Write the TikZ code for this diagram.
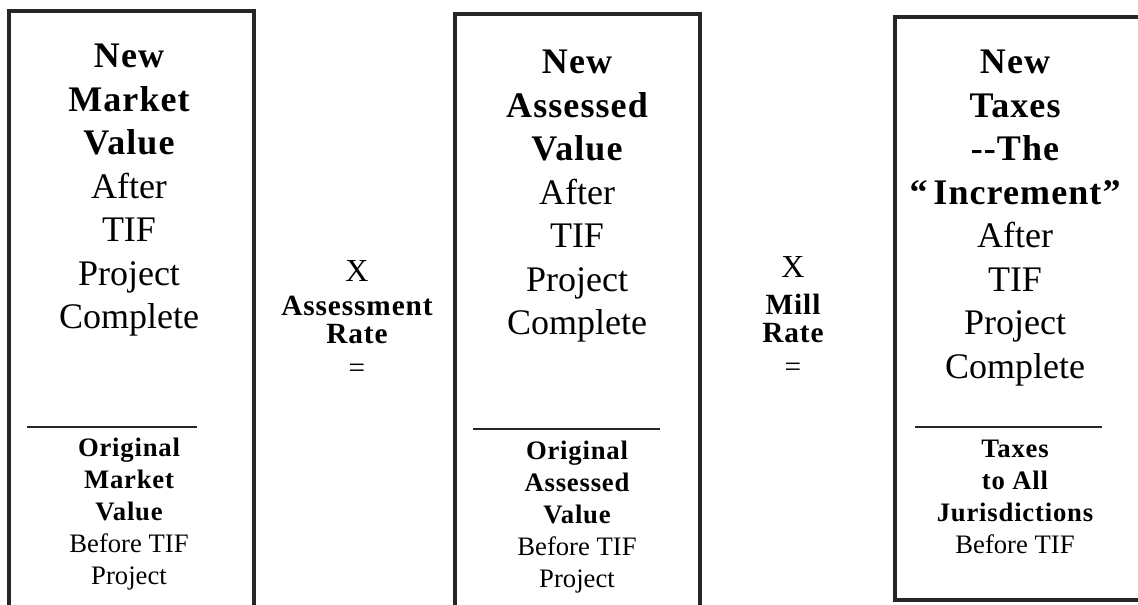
\documentclass[tikz,border=0pt]{standalone}
\usepackage{fontspec}
\setmainfont{Liberation Serif}
\newfontfamily\trackedfont[LetterSpace=3]{Liberation Serif}
\newcommand{\heavy}[1]{{\trackedfont\bfseries #1}}

\tikzset{
  valbox/.style={draw=black!85, line width=3pt},
  toptext/.style={anchor=north, inner sep=0pt, align=center,
    font=\fontsize{27}{32.6}\selectfont},
  bottext/.style={anchor=north, inner sep=0pt, align=center,
    font=\fontsize{20}{24}\selectfont},
  optext/.style={anchor=north, inner sep=0pt, align=center,
    font=\fontsize{22}{21}\selectfont},
  rule/.style={draw=black!85, line width=1.5pt}
}

\begin{document}
\begin{tikzpicture}[x=0.75pt, y=-0.75pt]
  \useasboundingbox (0,0) rectangle (1138,605);

  % the three value boxes
  \draw[valbox] (9,612) |- (254,11) -- (254,612);
  \draw[valbox] (455,612) |- (700,14) -- (700,612);
  \draw[valbox] (895,17) rectangle (1150,600);

  % market value
  \node[toptext] (mvnew) at (129,44)
    {\heavy{New}\\ \heavy{Market}\\ \heavy{Value}\\ After\\ TIF\\ Project\\ Complete};
  \draw[rule] (27,427) -- (197,427);
  \node[bottext] (mvold) at (129,438)
    {\heavy{Original}\\ \heavy{Market}\\ \heavy{Value}\\ Before TIF\\ Project};

  % assessment rate
  \node[optext] (assessrate) at (357,260)
    {{\fontsize{24}{21}\selectfont X}\\[5pt] \heavy{Assessment}\\ \heavy{Rate}\\[4.5pt] =};

  % assessed value
  \node[toptext] (avnew) at (577,50)
    {\heavy{New}\\ \heavy{Assessed}\\ \heavy{Value}\\ After\\ TIF\\ Project\\ Complete};
  \draw[rule] (473,429) -- (660,429);
  \node[bottext] (avold) at (577,441)
    {\heavy{Original}\\ \heavy{Assessed}\\ \heavy{Value}\\ Before TIF\\ Project};

  % mill rate
  \node[optext] (millrate) at (793,256)
    {{\fontsize{24}{21}\selectfont X}\\[7pt] \heavy{Mill}\\ \heavy{Rate}\\[4.5pt] =};

  % taxes
  \node[toptext] (taxnew) at (1015,50)
    {\heavy{New}\\ \heavy{Taxes}\\ \heavy{-{}-The}\\ \heavy{“\,Increment”}\\ After\\ TIF\\ Project\\ Complete};
  \draw[rule] (915,427) -- (1102,427);
  \node[bottext] (taxold) at (1015,440)
    {\heavy{Taxes}\\ \heavy{to All}\\ \heavy{Jurisdictions}\\ Before TIF};
\end{tikzpicture}
\end{document}
